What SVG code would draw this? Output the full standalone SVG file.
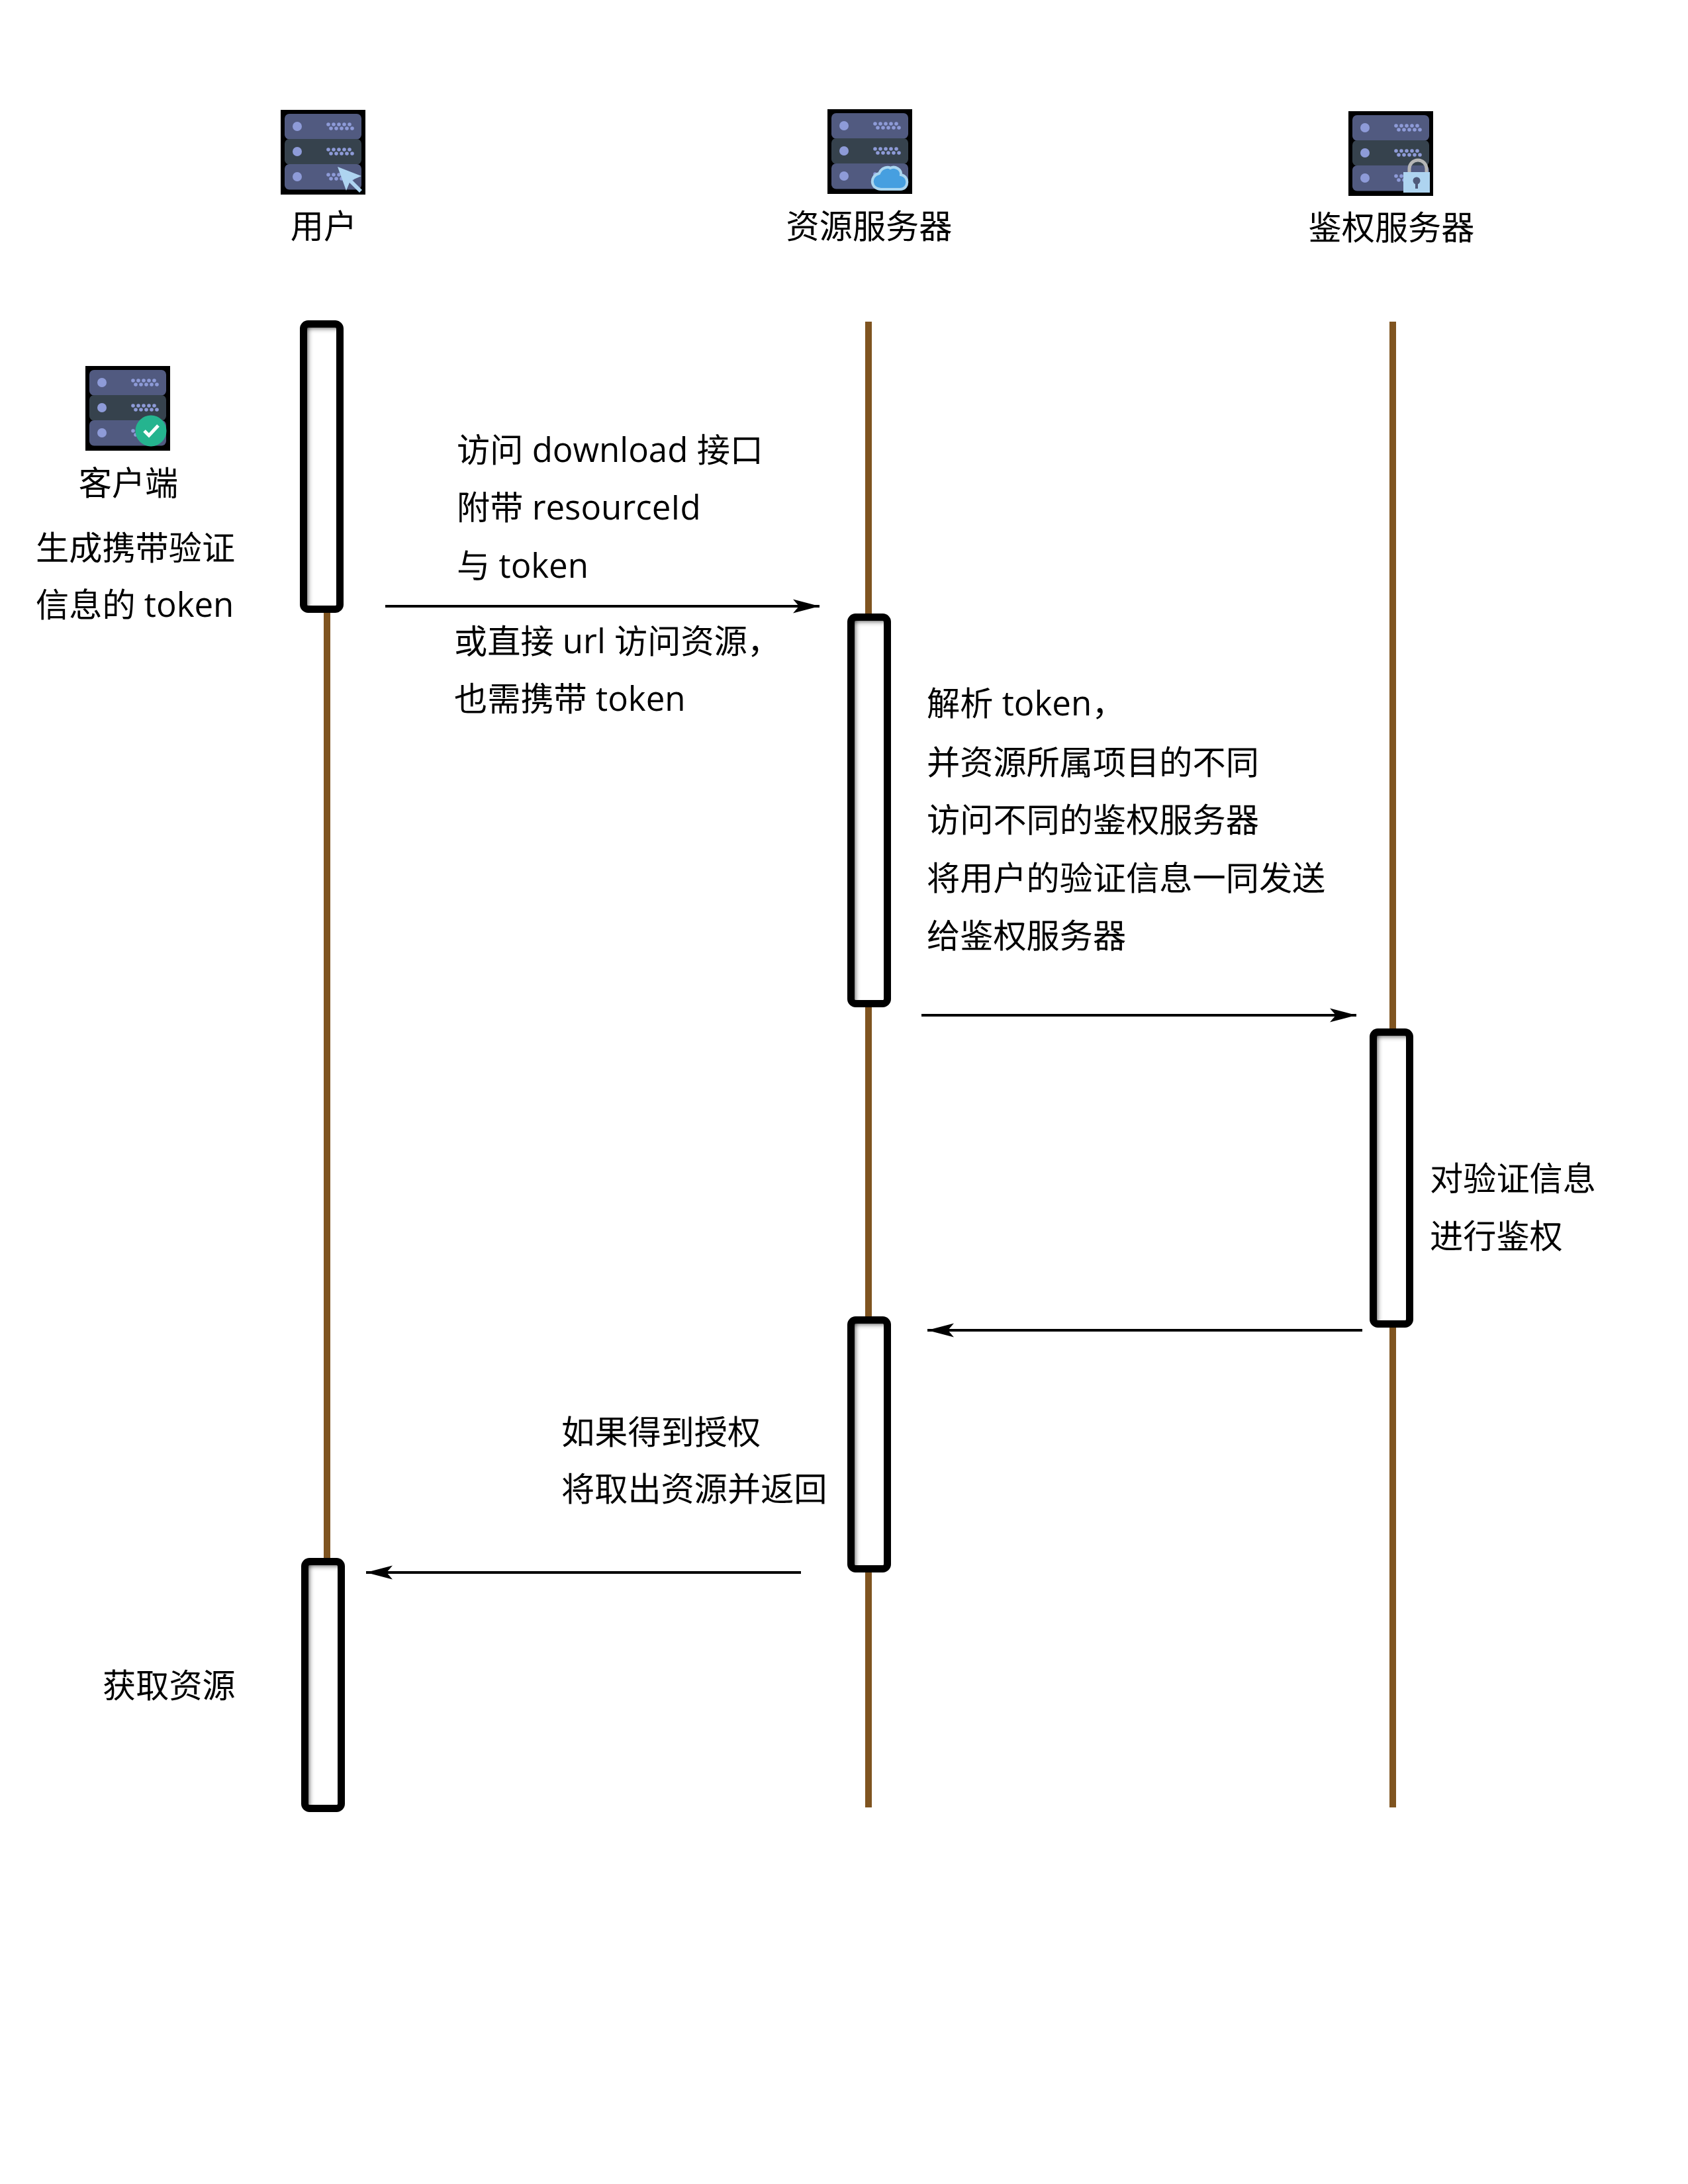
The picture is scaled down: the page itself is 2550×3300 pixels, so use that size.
<svg xmlns="http://www.w3.org/2000/svg" width="2550" height="3300" viewBox="0 0 2550 3300">
<style>
text{font-family:"Open Sans","Noto Sans CJK SC",sans-serif;font-size:50.200px;fill:#000}
tspan{font-size:51px}
.mid{text-anchor:middle}
.life{stroke:#7f5420;stroke-width:10;fill:none}
.bar{fill:none;stroke:#000;stroke-width:11}
.in{fill:#fff;filter:url(#inner)}
.msg{stroke:#000;stroke-width:4;fill:none;marker-end:url(#head)}
.d{fill:#8e9bd8}
</style>
<defs>
<filter id="inner" x="-20%" y="-20%" width="140%" height="140%">
<feComponentTransfer in="SourceAlpha" result="inv"><feFuncA type="table" tableValues="1 0"/></feComponentTransfer>
<feGaussianBlur in="inv" stdDeviation="3.500"/>
<feOffset dx="8" dy="8" result="sh"/>
<feComposite in="sh" in2="SourceAlpha" operator="in" result="clip"/>
<feMerge><feMergeNode in="SourceGraphic"/><feMergeNode in="clip"/></feMerge>
</filter>
<marker id="head" markerUnits="userSpaceOnUse" markerWidth="44" markerHeight="26" refX="40" refY="12" orient="auto">
<path d="M0 1.500L40 12L0 22.500L9 12Z" fill="#000"/>
</marker>
<g id="dots">
<circle class="d" cx="72" cy="0" r="2.800"/><circle class="d" cx="80" cy="0" r="2.800"/><circle class="d" cx="88" cy="0" r="2.800"/><circle class="d" cx="96" cy="0" r="2.800"/><circle class="d" cx="104" cy="0" r="2.800"/>
<circle class="d" cx="76" cy="6" r="2.800"/><circle class="d" cx="84" cy="6" r="2.800"/><circle class="d" cx="92" cy="6" r="2.800"/><circle class="d" cx="100" cy="6" r="2.800"/><circle class="d" cx="108" cy="6" r="2.800"/>
</g>
<g id="server">
<rect width="128" height="128" fill="#000"/>
<rect x="6" y="6" width="116" height="38.500" rx="7" fill="#515a80"/>
<rect x="6" y="44" width="116" height="38.500" rx="7" fill="#36424d"/>
<rect x="6" y="82" width="116" height="38.500" rx="7" fill="#515a80"/>
<circle class="d" cx="25" cy="25" r="7"/><circle class="d" cx="25" cy="63" r="7"/><circle class="d" cx="25" cy="101" r="7"/>
<use href="#dots" y="22"/><use href="#dots" y="60"/><use href="#dots" y="98"/>
</g>
</defs>
<rect width="2550" height="3300" fill="#fff"/>

<g id="lifelines">
<line class="life" x1="494" y1="486" x2="494" y2="2360"/>
<line class="life" x1="1312" y1="486" x2="1312" y2="2731"/>
<line class="life" x1="2104" y1="486" x2="2104" y2="2731"/>
</g>

<g id="connectors">
<line class="msg" x1="582" y1="916" x2="1238" y2="916"/>
<line class="msg" x1="1392" y1="1534" x2="2049" y2="1534"/>
<line class="msg" x1="2058" y1="2010" x2="1401" y2="2010"/>
<line class="msg" x1="1210" y1="2376" x2="553" y2="2376"/>
</g>

<g id="node-user">
<use href="#server" x="424" y="166"/>
<path d="M510 252L546 266L532 272L547 287L543 291L528 276L523 288Z" fill="#aed4f0"/>
<text class="mid" x="489" y="360">用户</text>
</g>
<g id="node-resource">
<use href="#server" x="1250" y="165"/>
<path d="M1331 286C1315 286 1313 266 1328 262C1332 252 1342 252 1345 254C1352 250 1362 256 1361 264C1374 266 1373 286 1360 286Z" fill="#469fe0" stroke="#a9d5ef" stroke-width="4"/>
<text class="mid" x="1313" y="360">资源服务器</text>
</g>
<g id="node-auth">
<use href="#server" x="2037" y="168"/>
<path d="M2129 262V255A13 13 0 0 1 2155 255V262" fill="none" stroke="#b6b6b6" stroke-width="5"/>
<rect x="2120" y="260" width="40" height="31" fill="#aed4f0"/>
<circle cx="2140" cy="273" r="5.500" fill="#4f5a7a"/><rect x="2138" y="275" width="4" height="10" fill="#4f5a7a"/>
<text class="mid" x="2102" y="362">鉴权服务器</text>
</g>
<g id="node-client">
<use href="#server" x="129" y="553"/>
<circle cx="228" cy="651" r="23.500" fill="#25b48f"/>
<path d="M218 651L225 658L239 643" fill="none" stroke="#fff" stroke-width="5"/>
<text class="mid" x="194" y="748">客户端</text>
<text x="54" y="846">生成携带验证</text>
<text x="54" y="932">信息的<tspan> token</tspan></text>
</g>

<g id="bar-user-1"><rect class="in" x="458" y="489" width="56" height="432"/><rect class="bar" x="458.500" y="489.500" width="55" height="431" rx="7"/></g>
<g id="bar-res-1"><rect class="in" x="1285" y="932" width="56" height="585"/><rect class="bar" x="1285.500" y="932.500" width="55" height="584" rx="7"/></g>
<g id="bar-auth"><rect class="in" x="2074" y="1559" width="56" height="442"/><rect class="bar" x="2074.500" y="1559.500" width="55" height="441" rx="7"/></g>
<g id="bar-res-2"><rect class="in" x="1285" y="1994" width="56" height="377"/><rect class="bar" x="1285.500" y="1994.500" width="55" height="376" rx="7"/></g>
<g id="bar-user-2"><rect class="in" x="460" y="2359" width="56" height="374"/><rect class="bar" x="460.500" y="2359.500" width="55" height="373" rx="7"/></g>

<g id="labels">
<text x="690" y="698">访问<tspan> download </tspan>接口</text>
<text x="690" y="785">附带<tspan> resourceId</tspan></text>
<text x="690" y="873">与<tspan> token</tspan></text>
<text x="686" y="987">或直接<tspan> url </tspan>访问资源，</text>
<text x="686" y="1074">也需携带<tspan> token</tspan></text>
<text x="1400" y="1081">解析<tspan> token</tspan>，</text>
<text x="1400" y="1170">并资源所属项目的不同</text>
<text x="1400" y="1257">访问不同的鉴权服务器</text>
<text x="1400" y="1345">将用户的验证信息一同发送</text>
<text x="1400" y="1432">给鉴权服务器</text>
<text x="2160" y="1799">对验证信息</text>
<text x="2160" y="1886">进行鉴权</text>
<text x="848" y="2182">如果得到授权</text>
<text x="848" y="2268">将取出资源并返回</text>
<text x="155" y="2565">获取资源</text>
</g>
</svg>
